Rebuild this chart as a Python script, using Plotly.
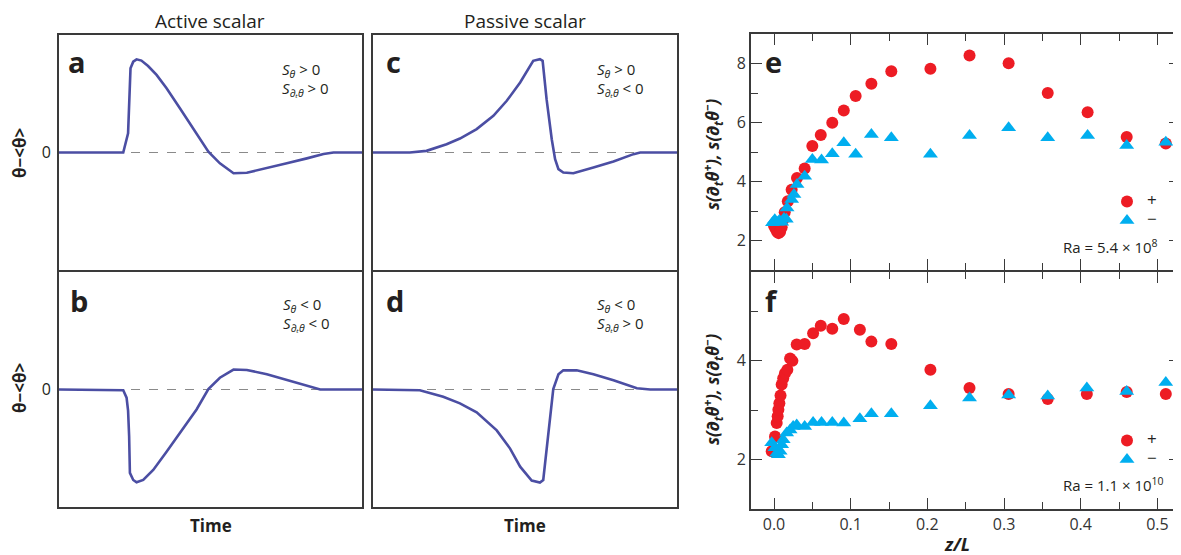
import plotly.graph_objects as go

# ---------------- data ----------------
# Panel a (active scalar, S_theta>0)
a_t = [0.0, 0.212, 0.228, 0.234, 0.236, 0.245, 0.256, 0.272, 0.294, 0.322, 0.355, 0.399, 0.443,
       0.493, 0.531, 0.576, 0.620, 0.686, 0.752, 0.818, 0.873, 0.906, 1.0]
a_v = [0.0, 0.0, 0.163, 0.589, 0.716, 0.773, 0.793, 0.782, 0.736, 0.660, 0.546, 0.376, 0.206,
       0.007, -0.092, -0.177, -0.172, -0.135, -0.092, -0.050, -0.013, 0.0, 0.0]
# Panel b (active scalar, S_theta<0)
b_t = [0.0, 0.212, 0.223, 0.228, 0.2315, 0.234, 0.245, 0.256, 0.278, 0.311, 0.355, 0.410, 0.454,
       0.493, 0.531, 0.576, 0.620, 0.686, 0.752, 0.818, 0.862, 1.0]
b_v = [0.0, -0.006, -0.07, -0.18, -0.40, -0.71, -0.77, -0.79, -0.77, -0.685, -0.53, -0.33, -0.17,
       0.003, 0.10, 0.17, 0.166, 0.13, 0.079, 0.03, 0.0, 0.0]
# Panel c (passive scalar, S_theta>0)
c_t = [0.0, 0.121, 0.176, 0.242, 0.286, 0.341, 0.396, 0.440, 0.484, 0.516, 0.527, 0.549, 0.558,
       0.571, 0.588, 0.599, 0.610, 0.626, 0.659, 0.725, 0.791, 0.857, 0.879, 1.0]
c_v = [0.0, 0.0, 0.014, 0.071, 0.119, 0.199, 0.312, 0.44, 0.596, 0.738, 0.78, 0.794, 0.78,
       0.454, 0.113, -0.057, -0.142, -0.17, -0.176, -0.128, -0.077, -0.014, 0.0, 0.0]
# Panel d (passive scalar, S_theta<0)
d_t = [0.0, 0.154, 0.231, 0.286, 0.341, 0.407, 0.451, 0.484, 0.522, 0.549, 0.560, 0.577, 0.593,
       0.610, 0.626, 0.670, 0.725, 0.791, 0.868, 0.912, 1.0]
d_v = [0.0, -0.006, -0.062, -0.118, -0.194, -0.348, -0.503, -0.657, -0.775, -0.792, -0.77, -0.348,
       0.003, 0.129, 0.163, 0.163, 0.129, 0.079, 0.011, 0.0, 0.0]

# Panel e (Ra = 5.4e8)
e_plus_z = [0.000, 0.002, 0.004, 0.006, 0.008, 0.010, 0.012, 0.014, 0.018, 0.023, 0.030, 0.040,
            0.050, 0.061, 0.076, 0.091, 0.1065, 0.127, 0.153, 0.204, 0.255, 0.306, 0.357, 0.409,
            0.460, 0.511]
e_plus_s = [2.50, 2.40, 2.30, 2.25, 2.30, 2.45, 2.70, 2.96, 3.33, 3.72, 4.12, 4.44,
            5.20, 5.58, 5.99, 6.41, 6.90, 7.31, 7.74, 7.82, 8.27, 8.01, 7.00, 6.35,
            5.51, 5.29]
e_minus_z = [-0.002, 0.001, 0.004, 0.007, 0.010, 0.013, 0.016, 0.017, 0.023, 0.026, 0.030, 0.040,
             0.050, 0.062, 0.076, 0.091, 0.1065, 0.127, 0.153, 0.204, 0.255, 0.306, 0.357, 0.409,
             0.460, 0.511]
e_minus_s = [2.60, 2.70, 2.62, 2.68, 2.62, 2.75, 2.72, 3.10, 3.39, 3.56, 3.90, 4.18,
             4.75, 4.73, 4.94, 5.31, 4.92, 5.59, 5.48, 4.92, 5.56, 5.82, 5.48, 5.56,
             5.22, 5.33]

# Panel f (Ra = 1.1e10)
f_plus_z = [-0.003, 0.0013, 0.0035, 0.0048, 0.0057, 0.007, 0.0085, 0.010, 0.012, 0.0143, 0.0174,
            0.021, 0.024, 0.0296, 0.040, 0.051, 0.061, 0.076, 0.091, 0.112, 0.127, 0.153, 0.204,
            0.255, 0.306, 0.357, 0.408, 0.460, 0.511]
f_plus_s = [2.17, 2.47, 2.74, 2.88, 3.01, 3.14, 3.30, 3.52, 3.65, 3.75, 3.82,
            4.05, 4.00, 4.33, 4.34, 4.56, 4.71, 4.65, 4.85, 4.63, 4.39, 4.34, 3.82,
            3.45, 3.33, 3.23, 3.33, 3.37, 3.33]
f_minus_z = [-0.003, 0.0013, 0.0035, 0.0057, 0.008, 0.010, 0.012, 0.0165, 0.021, 0.025, 0.0296,
             0.040, 0.051, 0.062, 0.076, 0.091, 0.112, 0.127, 0.153, 0.204, 0.255, 0.306, 0.357,
             0.408, 0.460, 0.511]
f_minus_s = [2.34, 2.24, 2.13, 2.10, 2.17, 2.30, 2.40, 2.54, 2.60, 2.67, 2.70,
             2.67, 2.75, 2.75, 2.75, 2.74, 2.83, 2.93, 2.93, 3.09, 3.25, 3.31, 3.29,
             3.45, 3.38, 3.56]

x_ticks = [0.0, 0.1, 0.2, 0.3, 0.4, 0.5]
x_ticktext = ["0.0", "0.1", "0.2", "0.3", "0.4", "0.5"]
e_yticks = [2, 4, 6, 8]
f_yticks = [2, 4]

# ---------------- styling ----------------
OFF = 8                      # page body margin in the browser
W, H = 1181 - OFF, 555 - OFF
FONT = "Open Sans"
TXT = "#231F20"
LINE = "#4B4EA3"
RED = "#ED1C24"
BLUE = "#00AEEF"
BOX = "#3a3a3a"


def px(x):
    return (x - OFF) / W


def py(y):
    return 1 - (y - OFF) / H


fig = go.Figure()

left_panels = [
    (a_t, a_v, "x", "y"),
    (b_t, b_v, "x2", "y2"),
    (c_t, c_v, "x3", "y3"),
    (d_t, d_v, "x4", "y4"),
]
for t, v, xa, ya in left_panels:
    fig.add_trace(go.Scatter(x=t, y=v, mode="lines", xaxis=xa, yaxis=ya,
                             line=dict(color=LINE, width=2.6), showlegend=False))
    fig.add_shape(type="line", xref=f"{xa} domain", yref=ya, x0=0, x1=1, y0=0, y1=0,
                  line=dict(color="#8a8a8a", width=1.2, dash="dash"), layer="below")

# scatter panels
PLUS = "<span style='font-size:17px'>+</span>"
MINUS = "<span style='font-size:17px'>−</span>"
fig.add_trace(go.Scatter(x=e_plus_z, y=e_plus_s, mode="markers", xaxis="x5", yaxis="y5",
                         marker=dict(color=RED, size=12, symbol="circle"), name=PLUS,
                         legend="legend"))
fig.add_trace(go.Scatter(x=e_minus_z, y=e_minus_s, mode="markers", xaxis="x5", yaxis="y5",
                         marker=dict(color=BLUE, size=13, symbol="triangle-up"), name=MINUS,
                         legend="legend"))
fig.add_trace(go.Scatter(x=f_plus_z, y=f_plus_s, mode="markers", xaxis="x6", yaxis="y6",
                         marker=dict(color=RED, size=12, symbol="circle"), name=PLUS,
                         legend="legend2"))
fig.add_trace(go.Scatter(x=f_minus_z, y=f_minus_s, mode="markers", xaxis="x6", yaxis="y6",
                         marker=dict(color=BLUE, size=13, symbol="triangle-up"), name=MINUS,
                         legend="legend2"))

left_x = [59, 362]
mid_x = [373, 677]
right_x = [751, 1180]
top_y = [35, 270]
bot_y = [272, 507]


def dom_x(r):
    return [px(r[0]), px(r[1])]


def dom_y(r):
    return [py(r[1]), py(r[0])]


box_common = dict(showline=True, mirror=True, linecolor=BOX, linewidth=2,
                  showgrid=False, zeroline=False, ticks="", fixedrange=True)

layout = dict(
    width=W, height=H,
    margin=dict(l=0, r=0, t=0, b=0),
    paper_bgcolor="white", plot_bgcolor="white",
    font=dict(family=FONT, color=TXT),
)

# left time panels
for i, (xd, yd, lab) in enumerate([
        (left_x, top_y, True), (left_x, bot_y, True),
        (mid_x, top_y, False), (mid_x, bot_y, False)]):
    n = "" if i == 0 else str(i + 1)
    layout["xaxis" + n] = dict(domain=dom_x(xd), range=[0, 1], showticklabels=False,
                               anchor="y" + n, **box_common)
    layout["yaxis" + n] = dict(domain=dom_y(yd), range=[-1, 1], anchor="x" + n,
                               tickvals=[0], ticktext=["0"], showticklabels=lab,
                               tickfont=dict(size=16, color=TXT), ticklabelstandoff=3,
                               **box_common)

sc_common = dict(showline=True, mirror="ticks", linecolor=BOX, linewidth=2,
                 showgrid=False, zeroline=False, ticks="inside", tickcolor=BOX,
                 tickwidth=1.3, ticklen=11, fixedrange=True,
                 tickfont=dict(size=16, color="#333333"))
minor_x = dict(dtick=0.05, tick0=0, ticks="inside", ticklen=7,
               tickcolor=BOX, tickwidth=1.3, showgrid=False)
minor_y = dict(dtick=1, tick0=0, ticks="inside", ticklen=7,
               tickcolor=BOX, tickwidth=1.3, showgrid=False)

layout["xaxis5"] = dict(domain=dom_x(right_x), range=[-0.030, 0.5295], anchor="y5",
                        tickvals=x_ticks, showticklabels=False, minor=minor_x, **sc_common)
layout["yaxis5"] = dict(domain=dom_y([34, 270]), range=[1.0, 9.0], anchor="x5",
                        tickvals=e_yticks, minor=minor_y, **sc_common)
layout["xaxis6"] = dict(domain=dom_x(right_x), range=[-0.030, 0.5295], anchor="y6",
                        tickvals=x_ticks, ticktext=x_ticktext, minor=minor_x, **sc_common)
layout["yaxis6"] = dict(domain=dom_y([272, 509]), range=[1.0, 5.80], anchor="x6",
                        tickvals=f_yticks, minor=minor_y, **sc_common)

leg_common = dict(bgcolor="rgba(0,0,0,0)", font=dict(size=12, color=TXT),
                  itemwidth=30, tracegroupgap=0, xanchor="left", yanchor="top")
layout["legend"] = dict(x=px(1107), y=py(187), **leg_common)
layout["legend2"] = dict(x=px(1107), y=py(426), **leg_common)

fig.update_layout(**layout)

# ---------------- text ----------------
ann = []


def add(text, x, y, size=15, bold=False, italic=False, xanchor="center", yanchor="middle",
        angle=0, color=TXT):
    ann.append(dict(text=text, x=px(x), y=py(y), xref="paper", yref="paper",
                    showarrow=False, xanchor=xanchor, yanchor=yanchor, textangle=angle,
                    font=dict(family=FONT, size=size, color=color,
                              weight="bold" if bold else "normal",
                              style="italic" if italic else "normal")))


add("Active scalar", 210, 21, size=19)
add("Passive scalar", 525, 21, size=19)
add("Time", 211, 525, size=17, bold=True)
add("Time", 525, 525, size=17, bold=True)
add("θ−&lt;θ&gt;", 19, 153, size=17, bold=True, angle=-90)
add("θ−&lt;θ&gt;", 19, 388, size=17, bold=True, angle=-90)

for lab, x, y in [("a", 66, 62), ("b", 68, 300), ("c", 384, 62), ("d", 384, 300)]:
    add(lab, x, y, size=29, bold=True, xanchor="left")
add("e", 763, 62, size=29, bold=True, xanchor="left")
add("f", 763, 300, size=29, bold=True, xanchor="left")

S1 = "<i>S</i><sub><i>θ</i></sub>"
S2 = "<i>S</i><sub><i>∂ₜθ</i></sub>"
s_texts = [
    (f"{S1} > 0", f"{S2} > 0", 280, 70),
    (f"{S1} < 0", f"{S2} < 0", 281, 305),
    (f"{S1} > 0", f"{S2} < 0", 595, 70),
    (f"{S1} < 0", f"{S2} > 0", 595, 305),
]
for l1, l2, x, y in s_texts:
    add(l1, x, y, size=15, xanchor="left")
    add(l2, x, y + 19, size=15, xanchor="left")

ytitle = "s(∂<sub>t</sub>θ<sup>+</sup>), s(∂<sub>t</sub>θ<sup>−</sup>)"
add(ytitle, 712, 155, size=17, bold=True, italic=True, angle=-90)
add(ytitle, 712, 390, size=17, bold=True, italic=True, angle=-90)
add("z/L", 957, 544, size=18, bold=True, italic=True)

add("Ra = 5.4 × 10<sup>8</sup>", 1160, 246, size=15, xanchor="right")
add("Ra = 1.1 × 10<sup>10</sup>", 1166, 484, size=15, xanchor="right")

fig.update_layout(annotations=ann)

fig.write_html("out.html")
